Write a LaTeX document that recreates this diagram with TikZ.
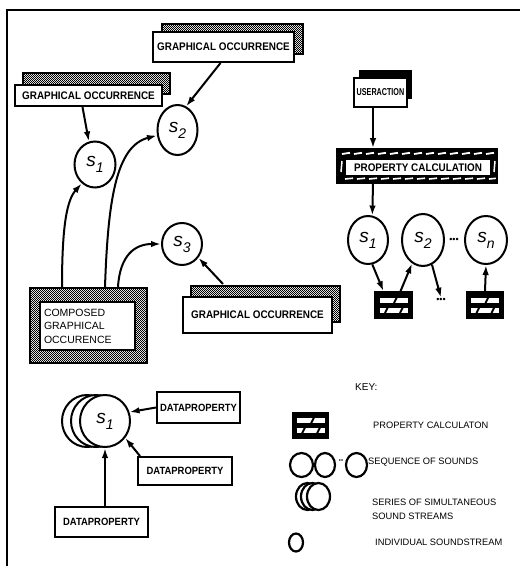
\documentclass[tikz,border=0pt]{standalone}
\usepackage{fontspec}
\setmainfont{Liberation Sans}
\newfontfamily\lblfont{Liberation Sans}[FakeStretch=0.9]
\newfontfamily\uafont{Liberation Sans}[FakeStretch=0.72]
\usetikzlibrary{shapes.geometric,arrows.meta,patterns,shadows}

\pgfdeclarepatternformonly{finecheck}{\pgfqpoint{0pt}{0pt}}{\pgfqpoint{2.4pt}{2.4pt}}{\pgfqpoint{2.4pt}{2.4pt}}{%
    \pgfpathrectangle{\pgfqpoint{0pt}{0pt}}{\pgfqpoint{1.2pt}{1.2pt}}%
    \pgfpathrectangle{\pgfqpoint{1.2pt}{1.2pt}}{\pgfqpoint{1.2pt}{1.2pt}}%
    \pgfusepath{fill}}

\newcommand{\sndlabel}[1]{{\fontsize{19}{19}\selectfont\itshape s}\raisebox{-6pt}{\fontsize{14}{14}\selectfont\itshape #1}}

\begin{document}
\begin{tikzpicture}[x=1pt, y=-1pt,
    snd/.style={draw, ellipse, line width=2pt, fill=white, inner sep=0pt},
    keysnd/.style={draw, ellipse, line width=2.2pt, fill=white, inner sep=0pt},
    lbl/.style={draw, line width=2pt, fill=white, inner sep=0pt, font={\lblfont\bfseries\fontsize{11}{12}\selectfont}},
    dprop/.style={lbl, font={\lblfont\bfseries\fontsize{10.5}{12}\selectfont}},
    goshadow/.style 2 args={general shadow={shadow xshift=#1, shadow yshift=#2, draw, line width=1.4pt, pattern=finecheck}},
    hbox/.style={draw, line width=1.6pt, fill=black, inner sep=0pt, minimum width=37pt, minimum height=26pt,
        path picture={
            \draw[white, line width=5pt] ([shift={(-14pt,5pt)}]path picture bounding box.center) -- ++(28pt,0pt);
            \draw[white, line width=5pt] ([shift={(-14pt,-5pt)}]path picture bounding box.center) -- ++(28pt,0pt);
            \foreach \cx/\cy in {2/5, -7/-5, 8/-5}
                \draw[black, line width=1.8pt] ([shift={(\cx pt-1.5pt,\cy pt-3pt)}]path picture bounding box.center) -- ++(3pt,6pt);
        }},
    arr/.style={-{Latex[length=10pt,width=6.5pt]}, line width=2pt},
    keytxt/.style={anchor=west, inner sep=0pt, font={\fontsize{9.3}{14}\selectfont}, align=left},
    dots/.style={inner sep=0pt, font={\fontsize{9}{9}\selectfont}}
]
\useasboundingbox (0,0) rectangle (520,566);
\draw[line width=2.2pt] (7,566) -- (7,10) -- (520,10);

% graphical occurrences and their sounds
\node (goA) [lbl, goshadow={9pt}{8pt}, minimum width=141pt, minimum height=30pt] at (223.5,47) {GRAPHICAL OCCURRENCE};
\node (goB) [lbl, goshadow={8pt}{12pt}, minimum width=147pt, minimum height=21pt] at (88.5,95.5) {GRAPHICAL OCCURRENCE};
\node (goC) [lbl, goshadow={8pt}{11pt}, minimum width=149pt, minimum height=36pt] at (257.5,315) {GRAPHICAL OCCURRENCE};
\node (s1L) [snd, minimum width=41pt, minimum height=46pt] at (95,164.5) {\sndlabel{1}};
\node (s2L) [snd, minimum width=40pt, minimum height=50pt] at (177.5,130) {\sndlabel{2}};
\node (s3L) [snd, minimum width=40pt, minimum height=42pt] at (182,244) {\sndlabel{3}};
\node (cgoframe) [draw, line width=2.4pt, pattern=finecheck, minimum width=117pt, minimum height=75pt] at (88.5,325.5) {};
\node (cgo) [draw, line width=1.4pt, fill=white, text width=87pt, inner sep=4pt, minimum height=48pt, align=left, font={\fontsize{10.5}{13.5}\selectfont}] at (87.5,326) {COMPOSED\\GRAPHICAL\\OCCURENCE};

\draw[arr] ([xshift=-6pt]goB.south) -- (s1L.105);
\draw[arr] ([xshift=-3pt]goA.south) -- (s2L.70);
\draw[arr] ([xshift=-26.5pt]cgoframe.north) .. controls (62,225) and (67,200) .. (s1L.235);
\draw[arr] ([xshift=16.5pt]cgoframe.north) .. controls (108,200) and (116,146) .. (s2L.195);
\draw[arr] ([xshift=29.5pt]cgoframe.north) .. controls (120,255) and (135,244) .. (s3L.west);
\draw[arr] ([shift={(-34.5pt,12pt)}]goC.north) -- (s3L.-40);

% user action and property calculation
\node (ua) [lbl, general shadow={shadow xshift=5pt, shadow yshift=8pt, fill=black}, minimum width=53pt, minimum height=29pt, font={\uafont\bfseries\fontsize{10}{10}\selectfont}] at (380.5,92.5) {USERACTION};
\node (pcframe) [draw, line width=1.6pt, fill=black, minimum width=160pt, minimum height=34pt,
    path picture={
        \foreach \i in {0,...,12}
            \draw[white, line width=1.8pt] ([shift={(\i*12pt-75pt,12pt)}]path picture bounding box.center) -- ++(8pt,1.2pt);
        \foreach \i in {0,...,12}
            \draw[white, line width=1.6pt] ([shift={(\i*12pt-72pt,-13pt)}]path picture bounding box.center) -- ++(8pt,0.8pt);
        \draw[white, line width=1.5pt] ([shift={(-76pt,-6pt)}]path picture bounding box.center) -- ++(1pt,11pt);
        \draw[white, line width=1.5pt] ([shift={(77pt,-6pt)}]path picture bounding box.center) -- ++(1pt,11pt);
    }] at (417,166) {};
\node (pc) [lbl, line width=1.2pt, minimum width=146pt, minimum height=17pt] at (418,167.5) {PROPERTY CALCULATION};
\node (s1R) [snd, minimum width=40pt, minimum height=48pt] at (368,240) {\sndlabel{1}};
\node (s2R) [snd, minimum width=42pt, minimum height=52pt] at (423,240) {\sndlabel{2}};
\node (snR) [snd, minimum width=42pt, minimum height=48pt] at (486,240) {\sndlabel{n}};
\node (dotsA) [dots] at (454,240) {•••};
\node (pb1) [hbox] at (393.5,305) {};
\node (pb2) [hbox] at (485,305) {};
\node (dotsB) [dots] at (441,300) {•••};

\draw[arr] ([xshift=-7.5pt]ua.south) -- ([xshift=-44pt]pcframe.north);
\draw[arr] ([xshift=-44pt]pcframe.south) -- (s1R.80);
\draw[arr] (s1R.-80) -- ([xshift=-10pt]pb1.north);
\draw[arr] ([xshift=7pt]pb1.north) -- (s2R.-115);
\draw[arr] (s2R.-70) -- (dotsB.north);
\draw[arr] (pb2.north) -- (snR.south);

% simultaneous streams
\foreach \dx/\nm in {-18/stk3, -9/stk2}
    \node (\nm) [snd, minimum width=50pt, minimum height=52pt] at (105+\dx,421) {};
\node (stk) [snd, minimum width=50pt, minimum height=52pt] at (105,421) {\sndlabel{1}};
\node (dp1) [dprop, minimum width=83pt, minimum height=31pt] at (198.5,407.5) {DATAPROPERTY};
\node (dp2) [dprop, minimum width=94pt, minimum height=28pt] at (185,471) {DATAPROPERTY};
\node (dp3) [dprop, minimum width=93pt, minimum height=30pt] at (101.5,522) {DATAPROPERTY};

\draw[arr] (dp1.west) -- (stk.20);
\draw[arr] ([xshift=3pt]dp2.north west) -- (stk.-40);
\draw[arr] (dp3.north -| stk.south) -- (stk.south);

% key
\node (key) [keytxt, font={\fontsize{10}{12}\selectfont}] at (355,387) {KEY:};
\node (keybox) [hbox, minimum width=35pt, minimum height=25pt] at (310.5,425.5) {};
\node (keyboxtxt) [keytxt] at (373,425) {PROPERTY CALCULATON};
\node (kseq1) [keysnd, minimum width=23pt, minimum height=24pt] at (301.5,465) {};
\node (kseq2) [keysnd, minimum width=20pt, minimum height=24pt] at (325,465) {};
\node (kdots) [dots, font={\fontsize{6}{6}\selectfont}] at (341,461) {••};
\node (kseq3) [keysnd, minimum width=21pt, minimum height=24pt] at (356.5,465) {};
\node (kseqtxt) [keytxt] at (368,462) {SEQUENCE OF SOUNDS};
\foreach \dx/\nm in {-11/kstk3, -6/kstk2, 0/kstk1}
    \node (\nm) [keysnd, minimum width=23pt, minimum height=27pt] at (318.5+\dx,496.5) {};
\node (kstktxt) [keytxt] at (372,509) {SERIES OF SIMULTANEOUS\\SOUND STREAMS};
\node (kone) [keysnd, minimum width=14pt, minimum height=18pt] at (296,542.5) {};
\node (konetxt) [keytxt] at (375,542) {INDIVIDUAL SOUNDSTREAM};
\end{tikzpicture}
\end{document}
